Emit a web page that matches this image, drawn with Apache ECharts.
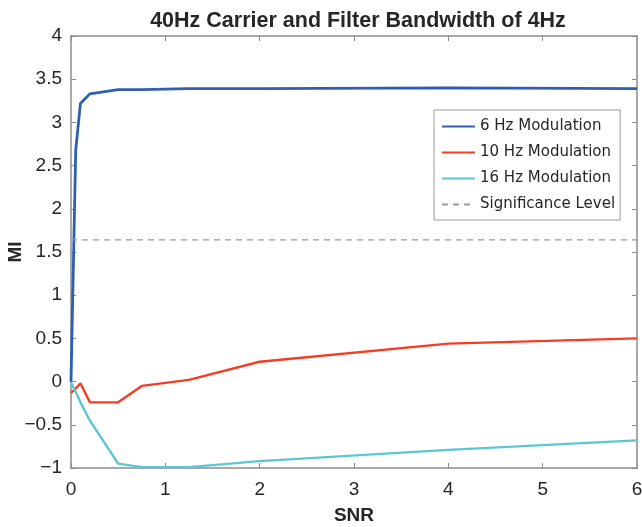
<!DOCTYPE html>
<html>
<head>
<meta charset="utf-8">
<script src="https://cdn.jsdelivr.net/npm/echarts@6/dist/echarts.min.js"></script>
<style>
  html, body { margin: 0; padding: 0; background: #fff; }
  #chart { width: 642px; height: 527px; }
</style>
</head>
<body>
<div id="chart"></div>
<script>
// SNR sample points
const snr = [0, 0.05, 0.1, 0.2, 0.5, 0.75, 1.25, 2, 4, 6]
const mi6Hz = [0, 2.68, 3.22, 3.33, 3.38, 3.38, 3.39, 3.39, 3.40, 3.39]
const mi10Hz = [-0.13, -0.08, -0.02, -0.24, -0.24, -0.05, 0.02, 0.23, 0.44, 0.50]
const mi16Hz = [-0.01, -0.12, -0.24, -0.45, -0.95, -0.99, -0.99, -0.92, -0.79, -0.68]
const sigLevel = 1.64
const xTicks = [0, 1, 2, 3, 4, 5, 6]
const yTicks = [-1, -0.5, 0, 0.5, 1, 1.5, 2, 2.5, 3, 3.5, 4]

const seriesNames = ['6 Hz Modulation', '10 Hz Modulation', '16 Hz Modulation', 'Significance Level']
const colors = ['#2d5fb5', '#f53d22', '#5cc6d6', '#9a9a9a']

const pairs = ys => snr.map((x, i) => [x, ys[i]])
const axisGray = '#8c8c8c'
const textDark = '#262626'
const labelFont = { fontFamily: 'Liberation Sans', fontSize: 19, color: textDark }
// matlab style minus sign
const fmtTick = v => String(v).replace('-', '\u2212')

const chart = echarts.init(document.getElementById('chart'))

const baseX = {
  type: 'value', min: xTicks[0], max: xTicks[xTicks.length - 1], interval: 1,
  axisLine: { show: true, onZero: false, lineStyle: { color: axisGray, width: 1.5 } },
  axisTick: { show: true, inside: true, length: 5, lineStyle: { color: axisGray } },
  splitLine: { show: false },
}
const baseY = {
  type: 'value', min: yTicks[0], max: yTicks[yTicks.length - 1], interval: 0.5,
  axisLine: { show: true, onZero: false, lineStyle: { color: axisGray, width: 1.5 } },
  axisTick: { show: true, inside: true, length: 5, lineStyle: { color: axisGray } },
  splitLine: { show: false },
}

chart.setOption({
  animation: false,
  backgroundColor: '#fff',
  title: {
    text: '40Hz Carrier and Filter Bandwidth of 4Hz',
    left: 353, top: 5, textAlign: 'center',
    textStyle: { fontFamily: 'Liberation Sans', fontWeight: 'bold', fontSize: 21.5, color: textDark },
  },
  legend: {
    orient: 'vertical', left: 434, top: 110,
    data: seriesNames,
    itemWidth: 33, itemHeight: 14, itemGap: 11,
    padding: [9, 5, 8, 7],
    itemStyle: { opacity: 0 },
    borderColor: '#9a9a9a', borderWidth: 1, backgroundColor: '#fff',
    textStyle: { fontFamily: 'DejaVu Sans', fontSize: 15, color: textDark },
  },
  grid: { left: 71, right: 5, top: 36, bottom: 59, outerBoundsMode: 'none' },
  xAxis: [
    Object.assign({}, baseX, {
      position: 'bottom', name: 'SNR', nameLocation: 'middle', nameGap: 38, nameMoveOverlap: false,
      nameTextStyle: { fontFamily: 'Liberation Sans', fontWeight: 'bold', fontSize: 19, color: textDark },
      axisLabel: Object.assign({ margin: 12, formatter: fmtTick }, labelFont),
    }),
    Object.assign({}, baseX, { position: 'top', axisLabel: { show: false } }),
  ],
  yAxis: [
    Object.assign({}, baseY, {
      position: 'left', name: 'MI', nameLocation: 'middle', nameGap: 46, nameMoveOverlap: false,
      nameTextStyle: { fontFamily: 'Liberation Sans', fontWeight: 'bold', fontSize: 19, color: textDark },
      axisLabel: Object.assign({ margin: 9, formatter: fmtTick }, labelFont),
    }),
    Object.assign({}, baseY, { position: 'right', axisLabel: { show: false } }),
  ],
  series: [
    { name: seriesNames[0], type: 'line', data: pairs(mi6Hz), symbol: 'none', color: colors[0], lineStyle: { width: 2.8 } },
    { name: seriesNames[1], type: 'line', data: pairs(mi10Hz), symbol: 'none', color: colors[1], lineStyle: { width: 2.4 } },
    { name: seriesNames[2], type: 'line', data: pairs(mi16Hz), symbol: 'none', color: colors[2], lineStyle: { width: 2.4 } },
    {
      name: seriesNames[3], type: 'line', symbol: 'none', color: colors[3],
      data: [[xTicks[0], sigLevel], [xTicks[xTicks.length - 1], sigLevel]],
      lineStyle: { width: 1.2, type: [6, 5] },
    },
  ],
})
</script>
</body>
</html>
